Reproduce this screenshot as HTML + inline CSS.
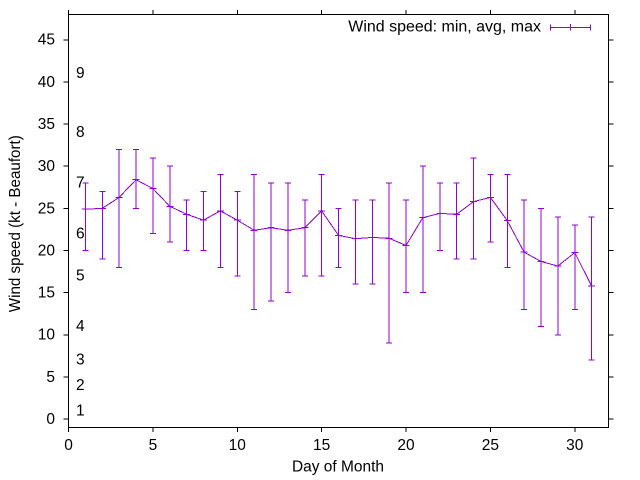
<!DOCTYPE html>
<html><head><meta charset="utf-8"><style>
html,body{margin:0;padding:0;background:#fff;}
svg{display:block;}
text{font-family:"Liberation Sans",sans-serif;font-size:15.5px;fill:#000;}
</style></head><body>
<svg width="640" height="480" viewBox="0 0 640 480" xmlns="http://www.w3.org/2000/svg">
<rect width="640" height="480" fill="#fff"/>
<g shape-rendering="crispEdges">
<!-- border -->
<rect x="68.5" y="14.5" width="540" height="413" fill="none" stroke="#000" stroke-width="1"/>
<!-- y ticks -->
<g stroke="#000" stroke-width="1">
<line x1="63.5" y1="419.07" x2="68.5" y2="419.07"/><line x1="608.5" y1="419.07" x2="613.5" y2="419.07"/>
<line x1="63.5" y1="376.93" x2="68.5" y2="376.93"/><line x1="608.5" y1="376.93" x2="613.5" y2="376.93"/>
<line x1="63.5" y1="334.79" x2="68.5" y2="334.79"/><line x1="608.5" y1="334.79" x2="613.5" y2="334.79"/>
<line x1="63.5" y1="292.64" x2="68.5" y2="292.64"/><line x1="608.5" y1="292.64" x2="613.5" y2="292.64"/>
<line x1="63.5" y1="250.5" x2="68.5" y2="250.5"/><line x1="608.5" y1="250.5" x2="613.5" y2="250.5"/>
<line x1="63.5" y1="208.36" x2="68.5" y2="208.36"/><line x1="608.5" y1="208.36" x2="613.5" y2="208.36"/>
<line x1="63.5" y1="166.21" x2="68.5" y2="166.21"/><line x1="608.5" y1="166.21" x2="613.5" y2="166.21"/>
<line x1="63.5" y1="124.07" x2="68.5" y2="124.07"/><line x1="608.5" y1="124.07" x2="613.5" y2="124.07"/>
<line x1="63.5" y1="81.93" x2="68.5" y2="81.93"/><line x1="608.5" y1="81.93" x2="613.5" y2="81.93"/>
<line x1="63.5" y1="39.79" x2="68.5" y2="39.79"/><line x1="608.5" y1="39.79" x2="613.5" y2="39.79"/>
<!-- x ticks -->
<line x1="68.5" y1="427.5" x2="68.5" y2="432"/><line x1="68.5" y1="14.5" x2="68.5" y2="10"/>
<line x1="152.875" y1="427.5" x2="152.875" y2="432"/><line x1="152.875" y1="14.5" x2="152.875" y2="10"/>
<line x1="237.25" y1="427.5" x2="237.25" y2="432"/><line x1="237.25" y1="14.5" x2="237.25" y2="10"/>
<line x1="321.625" y1="427.5" x2="321.625" y2="432"/><line x1="321.625" y1="14.5" x2="321.625" y2="10"/>
<line x1="406" y1="427.5" x2="406" y2="432"/><line x1="406" y1="14.5" x2="406" y2="10"/>
<line x1="490.375" y1="427.5" x2="490.375" y2="432"/><line x1="490.375" y1="14.5" x2="490.375" y2="10"/>
<line x1="574.75" y1="427.5" x2="574.75" y2="432"/><line x1="574.75" y1="14.5" x2="574.75" y2="10"/>
</g>
<g stroke="#9400d3" stroke-width="1" fill="none">
<line x1="550.3" y1="27.3" x2="590.3" y2="27.3"/>
<line x1="550.3" y1="24.3" x2="550.3" y2="30.3"/>
<line x1="590.3" y1="24.3" x2="590.3" y2="30.3"/>
<line x1="570.3" y1="24" x2="570.3" y2="30.6"/>
<!-- avg line -->
<polyline points="85.375,209.2 102.25,208.36 119.125,197.4 136,179.7 152.875,188.55 169.75,206.25 186.625,214.26 203.5,220.16 220.375,210.88 237.25,220.16 254.125,230.27 271,227.74 287.875,230.27 304.75,227.74 321.625,210.88 338.5,235.33 355.375,238.7 372.25,237.43 389.125,238.28 406,245.44 422.875,217.63 439.75,213.41 456.625,214.26 473.5,201.61 490.375,197.4 507.25,220.58 524.125,252.18 541,261.46 557.875,266.09 574.75,252.61 591.625,285.9"/>
<!-- error bars: vertical -->
<path d="M85.375 250.5V183.07 M102.25 258.93V191.5 M119.125 267.36V149.36 M136 208.36V149.36 M152.875 233.64V157.78 M169.75 242.07V166.21 M186.625 250.5V199.93 M203.5 250.5V191.5 M220.375 267.36V174.64 M237.25 275.78V191.5 M254.125 309.5V174.64 M271 301.07V183.07 M287.875 292.64V183.07 M304.75 275.78V199.93 M321.625 275.78V174.64 M338.5 267.36V208.36 M355.375 284.21V199.93 M372.25 284.21V199.93 M389.125 343.21V183.07 M406 292.64V199.93 M422.875 292.64V166.21 M439.75 250.5V183.07 M456.625 258.93V183.07 M473.5 258.93V157.78 M490.375 242.07V174.64 M507.25 267.36V174.64 M524.125 309.5V199.93 M541 326.36V208.36 M557.875 334.79V216.78 M574.75 309.5V225.21 M591.625 360.07V216.78"/>
<!-- caps -->
<path d="M82.375 250.5h6M82.375 183.07h6 M99.25 258.93h6M99.25 191.5h6 M116.125 267.36h6M116.125 149.36h6 M133 208.36h6M133 149.36h6 M149.875 233.64h6M149.875 157.78h6 M166.75 242.07h6M166.75 166.21h6 M183.625 250.5h6M183.625 199.93h6 M200.5 250.5h6M200.5 191.5h6 M217.375 267.36h6M217.375 174.64h6 M234.25 275.78h6M234.25 191.5h6 M251.125 309.5h6M251.125 174.64h6 M268 301.07h6M268 183.07h6 M284.875 292.64h6M284.875 183.07h6 M301.75 275.78h6M301.75 199.93h6 M318.625 275.78h6M318.625 174.64h6 M335.5 267.36h6M335.5 208.36h6 M352.375 284.21h6M352.375 199.93h6 M369.25 284.21h6M369.25 199.93h6 M386.125 343.21h6M386.125 183.07h6 M403 292.64h6M403 199.93h6 M419.875 292.64h6M419.875 166.21h6 M436.75 250.5h6M436.75 183.07h6 M453.625 258.93h6M453.625 183.07h6 M470.5 258.93h6M470.5 157.78h6 M487.375 242.07h6M487.375 174.64h6 M504.25 267.36h6M504.25 174.64h6 M521.125 309.5h6M521.125 199.93h6 M538 326.36h6M538 208.36h6 M554.875 334.79h6M554.875 216.78h6 M571.75 309.5h6M571.75 225.21h6 M588.625 360.07h6M588.625 216.78h6"/>
<!-- point markers -->
<path d="M81.875 209.2h7 M98.75 208.36h7 M115.625 197.4h7 M132.5 179.7h7 M149.375 188.55h7 M166.25 206.25h7 M183.125 214.26h7 M200 220.16h7 M216.875 210.88h7 M233.75 220.16h7 M250.625 230.27h7 M267.5 227.74h7 M284.375 230.27h7 M301.25 227.74h7 M318.125 210.88h7 M335 235.33h7 M351.875 238.7h7 M368.75 237.43h7 M385.625 238.28h7 M402.5 245.44h7 M419.375 217.63h7 M436.25 213.41h7 M453.125 214.26h7 M470 201.61h7 M486.875 197.4h7 M503.75 220.58h7 M520.625 252.18h7 M537.5 261.46h7 M554.375 266.09h7 M571.25 252.61h7 M588.125 285.9h7"/>
</g>
</g>
<!-- y tick labels -->
<g text-anchor="end">
<text x="55" y="424">0</text>
<text x="55" y="381.9">5</text>
<text x="55" y="339.7">10</text>
<text x="55" y="297.6">15</text>
<text x="55" y="255.4">20</text>
<text x="55" y="213.3">25</text>
<text x="55" y="171.1">30</text>
<text x="55" y="129">35</text>
<text x="55" y="86.8">40</text>
<text x="55" y="44.7">45</text>
</g>
<!-- x tick labels -->
<g text-anchor="middle">
<text x="68.5" y="450">0</text>
<text x="152.875" y="450">5</text>
<text x="237.25" y="450">10</text>
<text x="321.625" y="450">15</text>
<text x="406" y="450">20</text>
<text x="490.375" y="450">25</text>
<text x="574.75" y="450">30</text>
</g>
<!-- Beaufort labels -->
<g>
<text x="76" y="415.3">1</text>
<text x="76" y="390">2</text>
<text x="76" y="364.7">3</text>
<text x="76" y="331">4</text>
<text x="76" y="280.4">5</text>
<text x="76" y="238.3">6</text>
<text x="76" y="187.7">7</text>
<text x="76" y="137.1">8</text>
<text x="76" y="78">9</text>
</g>
<!-- axis labels -->
<text x="338" y="471.5" text-anchor="middle" textLength="92" lengthAdjust="spacingAndGlyphs">Day of Month</text>
<text transform="translate(20,223.7) rotate(-90)" text-anchor="middle" textLength="177" lengthAdjust="spacingAndGlyphs">Wind speed (kt - Beaufort)</text>
<!-- legend -->
<text x="541" y="31.7" text-anchor="end" textLength="192.7" lengthAdjust="spacingAndGlyphs">Wind speed: min, avg, max</text>
</svg>
</body></html>
